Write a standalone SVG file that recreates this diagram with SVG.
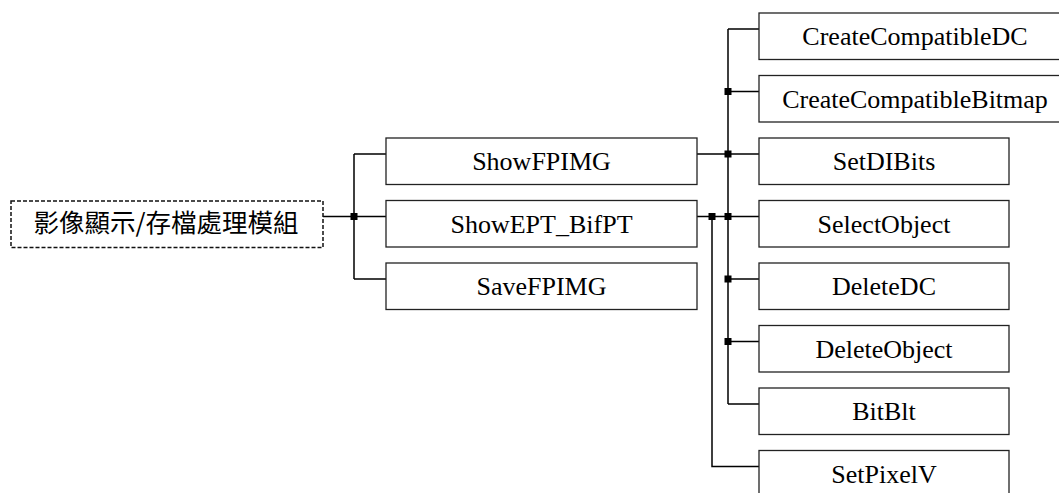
<svg xmlns="http://www.w3.org/2000/svg" xmlns:xlink="http://www.w3.org/1999/xlink" width="1059" height="493" viewBox="0 0 1059 493">
<style>
.box{fill:#fff;stroke:#222;stroke-width:1.3}
.root{fill:#fff;stroke:#111;stroke-width:1.5;stroke-dasharray:4 2}
.t{font-family:"Liberation Serif","Times New Roman",serif;font-size:26px;fill:#000;text-anchor:middle}
.cjk{font-family:"Noto Sans CJK TC","Noto Sans CJK SC",sans-serif;font-size:25.5px;fill:#000;text-anchor:middle}
.c{fill:none;stroke:#000;stroke-width:1.5}
</style>
<defs>
<rect id="sq" x="-3.5" y="-3.5" width="7" height="7" fill="#000"/>
</defs>
<rect width="1059" height="493" fill="#fff"/>
<g id="connectors">
<path class="c" d="M323 216.5H354M354 154V279M354 154H386M354 216.5H386M354 279H386"/>
<path class="c" d="M697 154H759M697 216.5H759"/>
<path class="c" d="M728 29V404M728 29H759M728 91.5H759M728 279H759M728 341.5H759M728 404H759"/>
<path class="c" d="M712 216.5V466.5H759"/>
<use xlink:href="#sq" x="354" y="216.5"/>
<use xlink:href="#sq" x="712" y="216.5"/>
<use xlink:href="#sq" x="728" y="91.5"/>
<use xlink:href="#sq" x="728" y="154"/>
<use xlink:href="#sq" x="728" y="216.5"/>
<use xlink:href="#sq" x="728" y="279"/>
<use xlink:href="#sq" x="728" y="341.5"/>
</g>
<g id="root"><rect class="root" x="11" y="201" width="312" height="46.5"/><text class="cjk" x="166" y="232">影像顯示/存檔處理模組</text></g>
<g id="ShowFPIMG"><rect class="box" x="386" y="138" width="311" height="46.5"/><text class="t" x="541.5" y="170">ShowFPIMG</text></g>
<g id="ShowEPT_BifPT"><rect class="box" x="386" y="200.5" width="311" height="46.5"/><text class="t" x="541.5" y="232.5">ShowEPT_BifPT</text></g>
<g id="SaveFPIMG"><rect class="box" x="386" y="263" width="311" height="46.5"/><text class="t" x="541.5" y="295">SaveFPIMG</text></g>
<g id="CreateCompatibleDC"><rect class="box" x="759" y="13" width="312" height="46.5"/><text class="t" x="915" y="45">CreateCompatibleDC</text></g>
<g id="CreateCompatibleBitmap"><rect class="box" x="759" y="75.5" width="312" height="46.5"/><text class="t" x="915" y="107.5">CreateCompatibleBitmap</text></g>
<g id="SetDIBits"><rect class="box" x="759" y="138" width="250" height="46.5"/><text class="t" x="884" y="170">SetDIBits</text></g>
<g id="SelectObject"><rect class="box" x="759" y="200.5" width="250" height="46.5"/><text class="t" x="884" y="232.5">SelectObject</text></g>
<g id="DeleteDC"><rect class="box" x="759" y="263" width="250" height="46.5"/><text class="t" x="884" y="295">DeleteDC</text></g>
<g id="DeleteObject"><rect class="box" x="759" y="325.5" width="250" height="46.5"/><text class="t" x="884" y="357.5">DeleteObject</text></g>
<g id="BitBlt"><rect class="box" x="759" y="388" width="250" height="46.5"/><text class="t" x="884" y="420">BitBlt</text></g>
<g id="SetPixelV"><rect class="box" x="759" y="450.5" width="250" height="46.5"/><text class="t" x="884" y="482.5">SetPixelV</text></g>
</svg>
